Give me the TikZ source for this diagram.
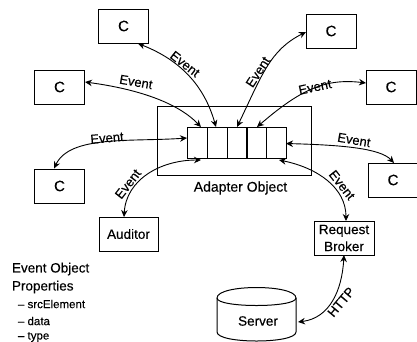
\documentclass[tikz,border=0pt]{standalone}
\usepackage{fontspec}
\setmainfont{Liberation Sans}[FakeBold=0.3]
\usetikzlibrary{arrows.meta}
\tikzset{
  every node/.style={inner sep=0pt,outer sep=0pt},
  box/.style={draw,line width=1pt,text=black,align=center,font=\fontsize{13.5}{17}\selectfont},
  cbox/.style={box,minimum width=50pt,minimum height=34pt,font=\fontsize{15}{18}\selectfont},
  link/.style={line width=0.9pt,{Stealth[length=7pt,width=6.5pt]}-{Stealth[length=7pt,width=6.5pt]}},
  lab/.style={font=\fontsize{13}{15}\selectfont},
  cell/.style={draw,line width=1pt,minimum width=20pt,minimum height=31pt},
  head/.style={font=\fontsize{13.5}{17}\selectfont,anchor=west},
  item/.style={font=\fontsize{11.5}{13}\selectfont,anchor=west}
}
\begin{document}
\begin{tikzpicture}[x=1pt,y=-1pt]
\useasboundingbox (0,0) rectangle (417,341);
\node[draw,line width=0.8pt,minimum width=154pt,minimum height=69pt] (adapter) at (234,140.5) {};
\node[cell] (q1) at (197,142.5) {};
\node[cell] (q2) at (217,142.5) {};
\node[cell] (q3) at (237,142.5) {};
\node[cell] (q4) at (256.500,142.5) {};
\node[cell] (q5) at (276,142.5) {};
\node[font=\fontsize{14}{17}\selectfont] (adlabel) at (240.5,188) {Adapter Object};
\node[cbox] (c1) at (123.5,26) {C};
\node[cbox] (c2) at (59.5,87) {C};
\node[cbox] (c3) at (59.5,186) {C};
\node[cbox] (c4) at (331,31) {C};
\node[cbox] (c5) at (391,87) {C};
\node[cbox] (c6) at (393,180) {C};
\node[box,minimum width=59pt,minimum height=34pt] (auditor) at (128.5,234) {Auditor};
\node[box,minimum width=60pt,minimum height=34pt] (broker) at (344,238) {Request\\Broker};
% server
\coordinate (sl) at (217,298);
\coordinate (sr) at (296,298);
\draw[line width=1pt,fill=white] (sl) .. controls (217,284) and (296,284) .. (sr)
  -- (296,332) .. controls (296,344) and (217,344) .. (217,332) -- cycle;
\draw[line width=1pt] (sl) .. controls (217,308) and (296,308) .. (sr);
\node[font=\fontsize{13.5}{16}\selectfont] (server) at (258,321) {Server};
\coordinate (srv) at (298,322);
% connectors
\coordinate (a1) at (138,43.5);
\coordinate (b1) at (216,127);
\draw[link] (a1) .. controls (180,60) and (204,85) .. (b1);
\coordinate (a2) at (85,82);
\coordinate (b2) at (201,127);
\draw[link] (a2) .. controls (130,88) and (175,100) .. (b2);
\coordinate (a3) at (54,168.5);
\coordinate (b3) at (187,138);
\draw[link] (a3) .. controls (70,135) and (130,142) .. (b3);
\coordinate (a4) at (124,217);
\coordinate (b4) at (201,160);
\draw[link] (a4) .. controls (126,180) and (160,160) .. (b4);
\coordinate (a5) at (306,32);
\coordinate (b5) at (237,127);
\draw[link] (a5) .. controls (270,50) and (262,75) .. (b5);
\coordinate (a6) at (366,83);
\coordinate (b6) at (257,127);
\draw[link] (a6) .. controls (325,78) and (300,90) .. (b6);
\coordinate (a7) at (394,163);
\coordinate (b7) at (286,143.500);
\draw[link] (a7) .. controls (380,148) and (340,145) .. (b7);
\coordinate (a8) at (346,221);
\coordinate (b8) at (279,160);
\draw[link] (a8) .. controls (346,188) and (318,168) .. (b8);
\draw[link] (broker.south) .. controls (342,290) and (330,318) .. (srv);
% labels
\node[lab,rotate=-38] (e1) at (185,64) {Event};
\node[lab,rotate=-10] (e2) at (136,82) {Event};
\node[lab,rotate=5] (e3) at (107,138) {Event};
\node[lab,rotate=52] (e4) at (128,184) {Event};
\node[lab,rotate=57] (e5) at (258,72) {Event};
\node[lab,rotate=12] (e6) at (315,87) {Event};
\node[lab,rotate=-10] (e7) at (354,140) {Event};
\node[lab,rotate=-52] (e8) at (342,185) {Event};
\node[lab,rotate=50] (http) at (341,302) {HTTP};
% text
\node[head] (t1) at (12,269) {Event Object};
\node[head] (t2) at (12,287) {Properties};
\node[item] (t3) at (18,304) {-- srcElement};
\node[item] (t4) at (18,321) {-- data};
\node[item] (t5) at (18,337) {-- type};
\end{tikzpicture}
\end{document}
